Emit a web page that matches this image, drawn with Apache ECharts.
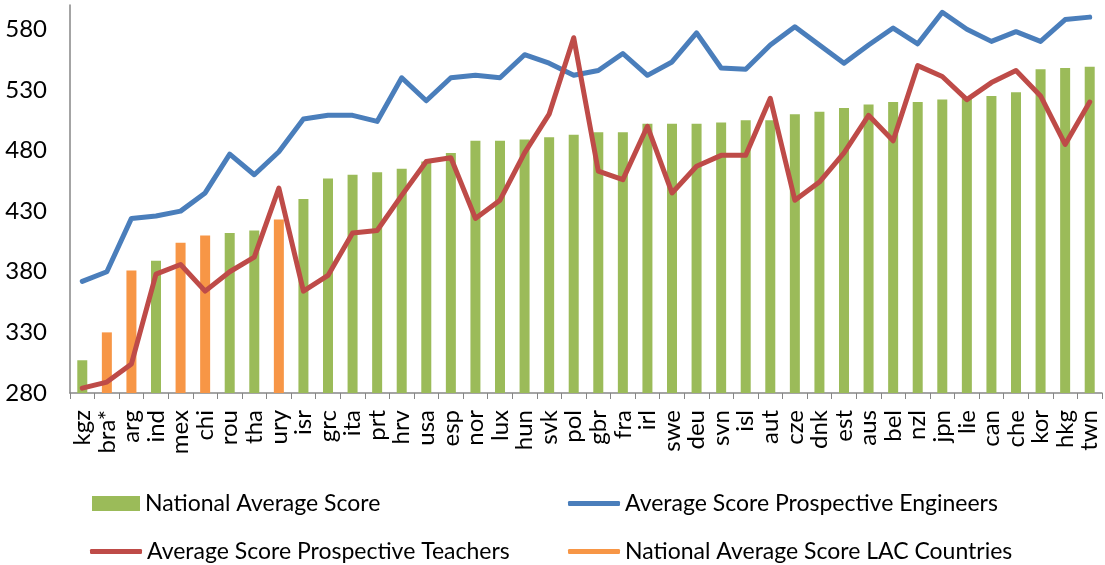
<!DOCTYPE html>
<html>
<head>
<meta charset="utf-8">
<script src="https://cdn.jsdelivr.net/npm/echarts@6/dist/echarts.min.js"></script>
<style>
  html, body { margin: 0; padding: 0; background: #fff; }
  #chart { width: 1105px; height: 565px; }
</style>
</head>
<body>
<div id="chart"></div>
<script>
// countries, sorted by national average score
var countries = ['kgz', 'bra*', 'arg', 'ind', 'mex', 'chi', 'rou', 'tha', 'ury', 'isr', 'grc', 'ita', 'prt', 'hrv',
  'usa', 'esp', 'nor', 'lux', 'hun', 'svk', 'pol', 'gbr', 'fra', 'irl', 'swe', 'deu', 'svn', 'isl', 'aut', 'cze',
  'dnk', 'est', 'aus', 'bel', 'nzl', 'jpn', 'lie', 'can', 'che', 'kor', 'hkg', 'twn'];

// green bars (non LAC countries)
var nationalAvg = [307, null, null, 389, null, null, 412, 414, null, 440, 457, 460, 462, 465,
  471, 478, 488, 488, 489, 491, 493, 495, 495, 502, 502, 502, 503, 505, 505, 510,
  512, 515, 518, 520, 520, 522, 523, 525, 528, 547, 548, 549];

// orange bars (LAC countries)
var nationalAvgLAC = [null, 330, 381, null, 404, 410, null, null, 423, null, null, null, null, null,
  null, null, null, null, null, null, null, null, null, null, null, null, null, null, null, null,
  null, null, null, null, null, null, null, null, null, null, null, null];

var engineers = [372, 380, 424, 426, 430, 445, 477, 460, 479, 506, 509, 509, 504, 540,
  521, 540, 542, 540, 559, 552, 542, 546, 560, 542, 553, 577, 548, 547, 567, 582,
  567, 552, 567, 581, 568, 594, 580, 570, 578, 570, 588, 590];

var teachers = [284, 289, 304, 378, 386, 364, 380, 392, 449, 364, 377, 412, 414, 443,
  471, 474, 424, 439, 478, 510, 573, 463, 456, 500, 445, 467, 476, 476, 523, 439,
  454, 478, 509, 488, 550, 541, 522, 536, 546, 525, 485, 520];

var yMin = 280, yMax = 600, yStep = 50;

var FONT = 'Lato';
var chart = echarts.init(document.getElementById('chart'));

function legendBox(left, top, name, icon, w, h) {
  return {
    left: left, top: top,
    data: [name],
    icon: icon,
    itemWidth: w, itemHeight: h,
    itemGap: 0,
    padding: 0,
    textStyle: { fontFamily: FONT, fontSize: 23, color: '#000' }
  };
}

var option = {
  animation: false,
  grid: { left: 70, right: 3, top: 5, bottom: 172 },
  legend: [
    legendBox(92, 492, 'National Average Score', 'rect', 48, 15),
    legendBox(90, 540, 'Average Score Prospective Teachers', 'roundRect', 52, 5),
    legendBox(568, 492, 'Average Score Prospective Engineers', 'roundRect', 52, 5),
    legendBox(568, 540, 'National Average Score LAC Countries', 'roundRect', 52, 5)
  ],
  xAxis: {
    type: 'category',
    data: countries,
    axisLine: { lineStyle: { color: '#868686', width: 1.5 } },
    axisTick: { show: true, length: 6, lineStyle: { color: '#868686' } },
    axisLabel: {
      rotate: 90, interval: 0, margin: 17,
      fontFamily: FONT, fontSize: 24, color: '#000'
    }
  },
  yAxis: {
    type: 'value',
    min: yMin, max: yMax, interval: 10,
    axisLine: { show: true, lineStyle: { color: '#868686', width: 1.5 } },
    axisTick: { show: false },
    splitLine: { show: false },
    axisLabel: {
      fontFamily: FONT, fontSize: 24, color: '#000', margin: 23,
      formatter: function (v) { return (v - yMin) % yStep === 0 ? String(v) : ''; }
    }
  },
  series: [
    {
      name: 'National Average Score',
      type: 'bar',
      stack: 'nat',
      barWidth: 10,
      itemStyle: { color: '#9bbb59' },
      data: nationalAvg
    },
    {
      name: 'National Average Score LAC Countries',
      type: 'bar',
      stack: 'nat',
      barWidth: 10,
      itemStyle: { color: '#f79646' },
      data: nationalAvgLAC
    },
    {
      name: 'Average Score Prospective Engineers',
      type: 'line',
      showSymbol: false,
      symbol: 'none',
      lineStyle: { color: '#4a7ebb', width: 5, cap: 'round', join: 'round' },
      itemStyle: { color: '#4a7ebb' },
      data: engineers
    },
    {
      name: 'Average Score Prospective Teachers',
      type: 'line',
      showSymbol: false,
      symbol: 'none',
      lineStyle: { color: '#be4b48', width: 5, cap: 'round', join: 'round' },
      itemStyle: { color: '#be4b48' },
      data: teachers
    }
  ]
};

chart.setOption(option);
</script>
</body>
</html>
